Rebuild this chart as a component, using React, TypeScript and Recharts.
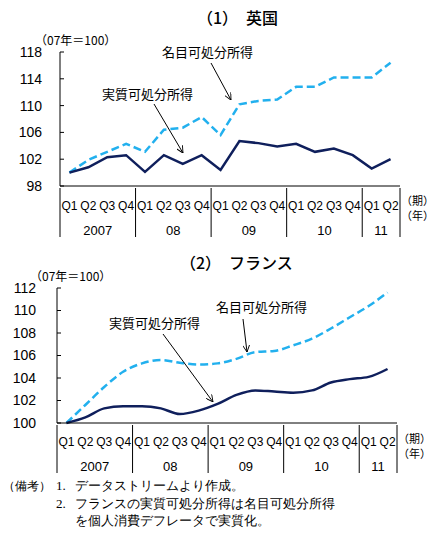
import { LineChart, Line, XAxis, YAxis } from 'recharts';

// Quarter / year layout of the category axis (2007Q1 - 2011Q2)
const yearLabels = ['2007', '08', '09', '10', '11'];
const quartersPerYear = [4, 4, 4, 4, 2];
const quarterNames = ['Q1', 'Q2', 'Q3', 'Q4'];

// (1) UK, 2007 = 100
const ukNominal = [100, 101.9, 103.1, 104.3, 103.1, 106.4, 106.7, 108.3, 105.6, 110.2, 110.7, 110.9, 112.8, 112.8, 114.2, 114.2, 114.2, 116.4];
const ukReal = [100, 100.8, 102.3, 102.6, 100.1, 102.6, 101.3, 102.6, 100.4, 104.7, 104.4, 103.9, 104.3, 103.1, 103.6, 102.6, 100.6, 102.0];
const ukTicks = [98, 102, 106, 110, 114, 118];

// (2) France, 2007 = 100
const frNominal = [100, 101.6, 103.2, 104.55, 105.3, 105.6, 105.35, 105.2, 105.3, 105.7, 106.3, 106.4, 106.9, 107.5, 108.4, 109.4, 110.4, 111.6];
const frReal = [100, 100.5, 101.3, 101.5, 101.5, 101.3, 100.8, 101.1, 101.7, 102.5, 102.9, 102.8, 102.7, 102.9, 103.6, 103.9, 104.1, 104.8];
const frTicks = [100, 102, 104, 106, 108, 110, 112];

const periods = yearLabels.flatMap((year, yi) =>
  quarterNames.slice(0, quartersPerYear[yi]).map((q, qi) => ({ key: `${year}${q}`, year, yi, q, qi }))
);

const ukData = periods.map((p, i) => ({ ...p, nominal: ukNominal[i], real: ukReal[i] }));
const frData = periods.map((p, i) => ({ ...p, nominal: frNominal[i], real: frReal[i] }));

const NOMINAL = '#22b0ee';
const REAL = '#0f1f5c';
const JP = '"Noto Sans CJK JP", sans-serif';
const NUM = '"Liberation Sans", Arial, sans-serif';

// two-row axis: quarter names, year separators and year labels
const makePeriodTick = (sepLen: number, qDy: number, yDy: number) => (props: any) => {
  const { x, y, payload } = props;
  const i = payload.index ?? props.index;
  const p = periods[i];
  const half = payload.offset || 9.45;
  const left = x - half;
  return (
    <g>
      <text x={x} y={y + qDy} textAnchor="middle" fontSize={12} fontFamily={NUM} fill="#000">
        {p.q}
      </text>
      {p.qi === 0 && <line x1={left} x2={left} y1={y} y2={y + sepLen} stroke="#000" />}
      {p.qi === 0 && (
        <text x={left + quartersPerYear[p.yi] * half} y={y + yDy} textAnchor="middle" fontSize={13} fontFamily={NUM} fill="#000">
          {p.year}
        </text>
      )}
      {i === periods.length - 1 && <line x1={x + half} x2={x + half} y1={y} y2={y + sepLen} stroke="#000" />}
    </g>
  );
};

const Arrow = ({ x1, y1, x2, y2 }: { x1: number; y1: number; x2: number; y2: number }) => (
  <line x1={x1} y1={y1} x2={x2} y2={y2} stroke="#000" strokeWidth={1} markerEnd="url(#arrowHead)" />
);

export default function App() {
  return (
    <div style={{ position: 'absolute', left: 0, top: 0, width: 437, height: 533, background: '#fff' }}>
      <div style={{ position: 'absolute', left: 0, top: 0 }}>
        <LineChart width={437} height={240} data={ukData} margin={{ top: 52, right: 37, left: 0, bottom: 0 }}>
          <XAxis
            dataKey="key"
            scale="band"
            height={54}
            interval={0}
            tickSize={0}
            tickLine={false}
            axisLine={{ stroke: '#000' }}
            tick={makePeriodTick(49, 22, 47)}
          />
          <YAxis
            width={60}
            domain={[98, 118]}
            ticks={ukTicks}
            tickSize={-4}
            tickMargin={22}
            axisLine={{ stroke: '#000' }}
            tickLine={{ stroke: '#000' }}
            tick={{ fontSize: 14, fill: '#000', fontFamily: NUM }}
          />
          <Line dataKey="nominal" stroke={NOMINAL} strokeWidth={2.5} strokeDasharray="8 4" dot={false} type="linear" isAnimationActive={false} />
          <Line dataKey="real" stroke={REAL} strokeWidth={2.5} dot={false} type="linear" isAnimationActive={false} />
        </LineChart>
      </div>

      <div style={{ position: 'absolute', left: 0, top: 250 }}>
        <LineChart width={437} height={240} data={frData} margin={{ top: 38, right: 40, left: 0, bottom: 0 }}>
          <XAxis
            dataKey="key"
            scale="band"
            height={67}
            interval={0}
            tickSize={0}
            tickLine={false}
            axisLine={{ stroke: '#000' }}
            tick={makePeriodTick(48, 21, 46)}
          />
          <YAxis
            width={57}
            domain={[100, 112]}
            ticks={frTicks}
            tickSize={-4}
            tickMargin={25}
            axisLine={{ stroke: '#000' }}
            tickLine={{ stroke: '#000' }}
            tick={{ fontSize: 14, fill: '#000', fontFamily: NUM }}
          />
          <Line dataKey="nominal" stroke={NOMINAL} strokeWidth={2.5} strokeDasharray="8 4" dot={false} type="monotone" isAnimationActive={false} />
          <Line dataKey="real" stroke={REAL} strokeWidth={2.5} dot={false} type="monotone" isAnimationActive={false} />
        </LineChart>
      </div>

      <svg width={437} height={533} style={{ position: 'absolute', left: 0, top: 0, pointerEvents: 'none' }}>
        <defs>
          <marker id="arrowHead" viewBox="0 0 10 10" refX={10} refY={5} markerWidth={7} markerHeight={7} orient="auto">
            <path d="M0,0 L10,5 L0,10" fill="none" stroke="#000" strokeWidth={1.3} />
          </marker>
        </defs>

        {/* (1) UK */}
        <text x={197} y={24} fontSize={16} fontWeight={500} fontFamily={JP}>（1）　英国</text>
        <text x={35} y={45} fontSize={12} fontFamily={JP}>（07年＝100）</text>
        <text x={162} y={57} fontSize={13} fontFamily={JP}>名目可処分所得</text>
        <Arrow x1={211} y1={63} x2={231} y2={100} />
        <text x={102} y={99} fontSize={13} fontFamily={JP}>実質可処分所得</text>
        <Arrow x1={154} y1={104} x2={183} y2={153} />
        <text x={401} y={205} fontSize={11} fontFamily={JP}>（期）</text>
        <text x={401} y={220} fontSize={11} fontFamily={JP}>（年）</text>

        {/* (2) France */}
        <text x={180} y={269} fontSize={16} fontWeight={500} fontFamily={JP}>（2）　フランス</text>
        <text x={30} y={281} fontSize={12} fontFamily={JP}>（07年＝100）</text>
        <text x={216} y={312} fontSize={13} fontFamily={JP}>名目可処分所得</text>
        <Arrow x1={243} y1={319} x2={247} y2={352} />
        <text x={109} y={328} fontSize={13} fontFamily={JP}>実質可処分所得</text>
        <Arrow x1={163} y1={334} x2={213} y2={402} />
        <text x={398} y={443} fontSize={11} fontFamily={JP}>（期）</text>
        <text x={398} y={458} fontSize={11} fontFamily={JP}>（年）</text>

        {/* notes */}
        <g fontSize={13} fontFamily={'serif'} fill="#000">
          <text x={3} y={490} fontSize={12}>（備考）</text>
          <text x={56} y={490}>1.</text>
          <text x={75} y={490}>データストリームより作成。</text>
          <text x={56} y={508}>2.</text>
          <text x={75} y={508}>フランスの実質可処分所得は名目可処分所得</text>
          <text x={75} y={525}>を個人消費デフレータで実質化。</text>
        </g>
      </svg>
    </div>
  );
}
